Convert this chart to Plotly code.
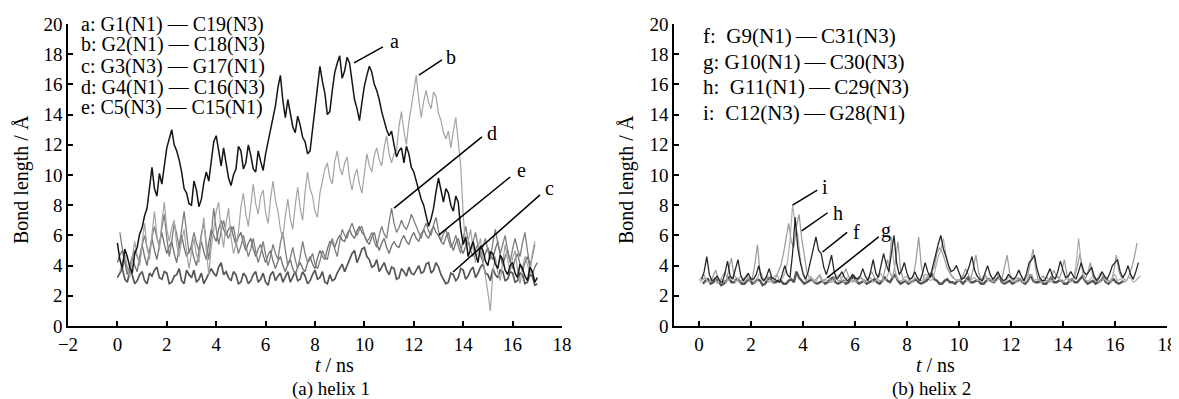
import plotly.graph_objects as go

# ---------------- helix 1 (bond length, Å), sampled every 0.1 ns ----------------
# grid t = 0.0, 0.1, ...
a_vals = [5.5, 4.4, 3.8, 5.1, 4.6, 3.9, 3.5, 4.8, 5.2, 6.1, 6.5, 7.3, 7.8, 9.2, 10.5, 9.1,
          8.6, 10.1, 9.4, 10.6, 11.8, 12.4, 13.0, 12.0, 11.6, 11.0, 10.2, 9.1, 8.8, 8.1,
          8.0, 9.6, 9.0, 7.9, 8.4, 9.5, 10.2, 9.6, 11.0, 12.2, 12.6, 11.5, 10.6, 11.8,
          10.9, 9.8, 9.3, 10.0, 10.4, 11.9, 11.6, 10.4, 10.8, 12.0, 11.3, 10.4, 10.2,
          11.6, 10.9, 10.3, 11.4, 12.2, 12.9, 13.8, 14.6, 15.8, 16.6, 14.9, 13.8, 15.0,
          14.2, 13.2, 12.8, 13.9, 13.3, 12.5, 12.2, 11.4, 11.6, 13.0, 14.5, 16.0, 17.2,
          16.2, 15.4, 14.0, 14.2, 15.6, 16.8, 17.4, 17.9, 16.4, 16.9, 17.8, 17.4, 16.2,
          15.0, 14.4, 13.6, 14.8, 15.9, 16.6, 17.2, 16.8, 16.0, 15.6, 15.0, 14.2, 13.6,
          13.0, 12.6, 12.9, 12.0, 11.2, 11.6, 11.8, 10.8, 11.9, 11.4, 10.5, 10.2, 9.6,
          9.0, 8.4, 8.0, 7.2, 6.6, 7.1, 7.8, 8.9, 9.8, 9.0, 8.2, 9.1, 8.8, 8.0, 7.6, 8.6,
          8.2, 6.4, 5.4, 5.9, 4.6, 5.1, 5.6, 4.8, 4.2, 5.3, 5.0, 4.3, 4.0, 4.9, 4.8, 4.1,
          3.8, 4.7, 4.4, 3.7, 3.4, 4.0, 4.2, 3.5, 3.2, 4.1, 3.8, 3.3, 3.0, 3.9, 3.6, 2.9,
          3.2]
c_vals = [3.2, 3.5, 3.8, 3.1, 2.9, 3.6, 3.4, 2.8, 3.0, 3.4, 3.6, 3.0, 2.8, 3.5, 3.3, 3.7,
          3.9, 3.2, 3.1, 3.6, 3.5, 2.8, 2.9, 3.3, 3.4, 3.8, 3.0, 2.8, 3.7, 3.4, 3.2, 3.7,
          2.9, 3.1, 3.5, 2.8, 3.1, 3.4, 3.8, 3.5, 3.3, 3.9, 4.2, 3.4, 3.6, 3.2, 3.0, 3.6,
          3.4, 2.8, 2.9, 3.5, 3.3, 2.8, 3.0, 3.4, 3.6, 2.9, 3.1, 3.5, 2.9, 2.7, 3.4, 3.6,
          3.0, 3.3, 3.5, 2.9, 3.2, 3.6, 2.9, 3.2, 3.6, 3.0, 3.1, 3.6, 3.3, 2.8, 3.0, 3.4,
          3.7, 3.1, 3.2, 3.6, 2.9, 2.8, 3.4, 3.0, 3.1, 3.5, 3.8, 4.1, 3.6, 4.0, 4.4, 4.8,
          5.0, 4.2, 4.6, 5.1, 5.2, 4.6, 4.4, 3.9, 4.0, 4.4, 3.6, 3.9, 4.2, 3.7, 3.4, 3.9,
          3.8, 3.1, 3.2, 3.8, 3.6, 3.3, 3.9, 3.5, 3.4, 3.7, 4.0, 3.5, 3.6, 4.1, 4.2, 3.5,
          3.7, 4.2, 3.9, 3.4, 3.1, 2.8, 2.9, 3.5, 3.4, 3.0, 3.2, 3.8, 3.7, 3.1, 3.3, 3.7,
          3.9, 3.2, 3.5, 3.9, 4.1, 3.5, 3.4, 3.0, 3.8, 3.4, 3.2, 3.7, 3.6, 3.0, 3.1, 3.6,
          3.5, 2.9, 3.0, 3.5, 3.4, 2.8, 2.9, 3.4, 3.3, 2.7, 2.8]
e_vals = [4.2, 4.7, 5.0, 4.1, 3.4, 4.0, 4.6, 4.0, 3.6, 4.6, 5.4, 4.6, 4.0, 5.0, 5.8, 5.0,
          4.4, 5.4, 6.2, 5.4, 4.8, 5.3, 5.6, 4.8, 4.2, 5.2, 6.0, 5.2, 4.6, 5.0, 5.2, 4.5,
          4.0, 4.9, 5.6, 4.9, 4.4, 5.5, 6.4, 6.0, 5.6, 6.4, 7.0, 6.4, 6.0, 6.4, 6.6, 5.9,
          5.4, 5.9, 6.2, 5.5, 5.0, 5.5, 5.8, 5.1, 4.6, 5.1, 5.4, 4.7, 4.2, 4.7, 5.0, 4.3,
          3.8, 4.3, 4.6, 4.0, 3.6, 4.1, 4.4, 3.8, 3.4, 3.9, 4.2, 3.8, 3.6, 4.2, 4.6, 4.1,
          3.8, 4.5, 5.0, 4.6, 4.4, 5.1, 5.6, 5.5, 5.2, 5.7, 6.0, 5.7, 5.6, 6.1, 6.4, 6.0,
          5.8, 6.3, 6.6, 6.2, 6.0, 5.6, 5.4, 5.9, 6.2, 5.5, 5.0, 5.5, 5.8, 5.2, 4.8, 5.3,
          5.6, 5.3, 5.2, 5.7, 6.0, 5.6, 5.4, 5.9, 6.2, 5.8, 5.6, 6.1, 6.4, 6.0, 5.8, 6.3,
          6.6, 6.2, 6.0, 5.6, 5.4, 5.9, 6.2, 5.5, 5.0, 5.5, 5.8, 5.2, 4.8, 5.3, 5.6, 5.0,
          4.6, 5.1, 5.4, 4.7, 4.2, 4.8, 5.2, 4.7, 4.4, 5.1, 5.6, 4.7, 4.0, 4.6, 5.0, 4.3,
          3.8, 4.4, 4.8, 4.1, 3.6, 4.2, 4.6, 3.9, 3.4, 3.9, 4.2]
# grid t = 0.1, 0.2, ...
b_vals = [3.6, 4.3, 4.8, 3.9, 3.2, 4.5, 5.6, 4.7, 4.0, 5.5, 6.8, 5.2, 4.4, 6.1, 7.6, 6.0,
          5.0, 6.9, 8.2, 6.4, 5.6, 6.5, 7.0, 5.4, 4.6, 5.7, 6.4, 4.9, 3.8, 4.9, 5.8, 4.7,
          4.2, 5.9, 7.2, 5.0, 3.4, 5.2, 6.6, 7.6, 8.2, 6.3, 5.2, 6.8, 7.8, 5.9, 4.8, 5.4,
          6.2, 7.9, 8.8, 7.4, 6.6, 8.2, 9.4, 8.1, 7.4, 8.6, 9.0, 7.5, 6.8, 8.4, 9.6, 8.3,
          7.6, 6.4, 5.8, 7.3, 8.4, 7.1, 6.4, 8.0, 9.2, 7.8, 7.0, 8.9, 10.2, 9.1, 8.6, 7.6,
          7.2, 8.8, 9.6, 10.4, 10.8, 9.8, 9.4, 10.9, 11.6, 10.5, 10.0, 10.8, 11.2, 9.8,
          9.0, 9.9, 10.4, 9.4, 8.8, 10.3, 11.4, 10.6, 10.2, 11.3, 11.8, 11.0, 10.6, 11.8,
          12.6, 11.4, 10.8, 11.4, 11.6, 13.2, 14.2, 12.9, 12.0, 13.5, 14.6, 15.8, 16.6,
          15.0, 13.8, 14.9, 15.6, 14.8, 14.4, 15.5, 15.2, 14.1, 13.6, 12.8, 12.4, 12.9,
          11.8, 12.9, 13.8, 12.2, 10.6, 7.4, 5.2, 5.6, 6.4, 5.1, 4.2, 5.2, 5.8, 4.4, 3.4,
          2.2, 1.0, 3.6, 4.6, 3.6, 3.0, 4.4, 5.4, 4.4, 3.6, 4.5, 5.0, 3.7, 2.8, 3.9, 4.6,
          4.1, 3.4, 4.8, 5.6]
d_vals = [6.2, 5.1, 4.4, 3.8, 3.6, 4.5, 5.0, 4.6, 4.2, 5.3, 6.0, 5.2, 4.8, 5.9, 6.6, 5.8,
          5.4, 6.5, 7.4, 5.8, 4.6, 5.6, 6.8, 6.1, 5.2, 6.4, 7.6, 6.2, 4.8, 5.4, 6.2, 5.5,
          5.0, 6.1, 6.8, 5.5, 4.4, 6.0, 7.8, 6.4, 5.4, 6.3, 7.0, 6.2, 5.8, 6.3, 6.6, 5.6,
          4.8, 5.3, 6.0, 5.3, 4.6, 5.1, 5.8, 4.9, 4.2, 4.8, 5.6, 4.7, 4.0, 4.6, 5.4, 4.8,
          4.4, 5.5, 6.2, 5.0, 4.0, 4.5, 5.2, 4.4, 3.8, 4.6, 5.6, 4.8, 4.2, 4.4, 4.8, 4.1,
          3.8, 4.3, 5.0, 4.6, 4.4, 5.2, 5.8, 5.1, 4.6, 5.6, 6.4, 6.0, 5.8, 6.4, 6.8, 6.3,
          6.0, 6.4, 6.6, 6.0, 5.6, 5.8, 6.2, 5.6, 5.2, 6.0, 6.6, 6.1, 5.8, 6.9, 7.8, 6.8,
          6.2, 6.5, 7.0, 6.6, 6.4, 6.8, 7.4, 7.0, 6.6, 6.1, 5.8, 6.4, 6.8, 6.3, 6.0, 6.7,
          7.2, 6.3, 5.6, 6.1, 6.4, 5.7, 5.2, 5.5, 6.0, 5.3, 4.8, 5.8, 6.6, 5.7, 5.0, 5.6,
          6.2, 5.3, 4.6, 5.3, 5.8, 5.0, 4.4, 5.5, 6.4, 5.5, 4.8, 5.4, 6.0, 5.0, 4.2, 5.1,
          5.8, 5.1, 4.6, 5.5, 6.2, 5.0, 4.0, 4.6, 5.4]

# ---------------- helix 2, sampled every 0.1 ns ----------------
# grid t = 0.0, 0.1, ...
i_vals = [3.0, 3.2, 3.4, 3.0, 2.9, 3.1, 3.2, 2.8, 3.0, 3.3, 3.6, 3.0, 3.1, 3.3, 2.9, 3.1,
          3.3, 3.0, 3.0, 3.2, 3.2, 2.9, 2.9, 3.4, 3.5, 3.0, 3.1, 2.9, 3.0, 3.3, 3.4, 3.0,
          3.1, 3.5, 4.2, 5.6, 8.0, 6.8, 6.0, 4.4, 3.4, 3.0, 3.1, 3.3, 3.0, 2.9, 3.3, 3.1,
          2.9, 3.2, 3.2, 2.9, 3.0, 3.3, 3.4, 3.0, 2.9, 3.2, 3.1, 2.9, 3.0, 3.2, 3.3, 3.0,
          2.9, 3.1, 3.2, 2.9, 3.0, 3.3, 3.5, 3.0, 3.1, 3.6, 5.9, 4.1, 3.2, 3.0, 3.0, 3.2,
          3.3, 2.9, 2.9, 3.2, 3.1, 3.0, 3.0, 3.4, 3.4, 3.0, 3.1, 3.8, 4.6, 5.0, 5.8, 4.7,
          3.9, 3.4, 3.2, 3.0, 3.0, 3.3, 3.3, 3.0, 2.9, 3.1, 3.2, 3.0, 3.0, 3.2, 3.4, 3.0,
          3.1, 3.0, 2.9, 3.1, 3.2, 2.9, 3.0, 3.2, 3.3, 3.0, 2.9, 3.2, 3.1, 2.9, 3.0, 3.3,
          3.4, 3.0, 3.1, 3.0, 2.9, 3.2, 3.2, 2.9, 3.0, 3.2, 3.3, 3.0, 2.9, 3.1, 3.1, 2.9,
          3.0, 4.0, 5.8, 4.2, 3.2, 3.0, 3.0, 3.2, 3.3, 3.0, 2.9, 3.1, 3.1, 2.9, 3.0, 3.2,
          3.4, 3.0, 3.1, 3.0, 2.9, 3.2, 3.2, 2.9, 3.0, 3.2, 3.3]
# grid t = 0.05, 0.15, ...
h_vals = [2.9, 3.1, 3.2, 2.9, 3.0, 3.4, 3.7, 3.0, 3.1, 3.0, 2.9, 3.8, 4.5, 3.3, 3.2, 2.9,
          3.0, 3.2, 3.4, 3.0, 3.1, 4.1, 5.4, 3.5, 3.0, 3.1, 3.3, 3.0, 2.9, 3.2, 3.6, 4.0,
          4.8, 5.8, 6.8, 5.6, 5.2, 6.6, 7.4, 5.8, 4.6, 3.6, 3.2, 3.1, 3.0, 3.2, 3.4, 3.0,
          3.1, 3.0, 2.9, 3.1, 3.3, 3.0, 3.0, 3.4, 3.8, 3.3, 3.1, 3.0, 2.9, 3.1, 3.2, 3.0,
          3.0, 3.3, 3.6, 3.2, 3.1, 3.0, 3.0, 3.7, 4.4, 3.5, 3.2, 4.2, 5.6, 3.8, 3.1, 3.0,
          2.9, 3.1, 3.3, 4.4, 5.9, 4.0, 3.0, 3.2, 3.4, 3.6, 3.9, 4.8, 5.2, 4.9, 4.4, 3.8,
          3.5, 3.2, 3.1, 3.0, 3.0, 3.3, 3.8, 3.4, 3.1, 3.8, 4.7, 3.6, 3.0, 3.1, 3.3, 3.0,
          2.9, 3.1, 3.5, 3.2, 3.1, 3.9, 4.7, 3.5, 3.0, 3.1, 3.2, 3.0, 2.9, 3.1, 3.4, 4.2,
          5.1, 3.8, 3.0, 3.2, 3.3, 3.0, 2.9, 3.2, 3.7, 3.3, 3.1, 3.6, 4.4, 3.4, 3.0, 3.1,
          3.3, 3.9, 4.8, 3.7, 3.1, 3.5, 4.2, 3.3, 3.0, 3.2, 3.5, 3.2, 3.1, 3.0, 2.9, 3.6,
          4.7, 3.6, 3.2, 3.1, 3.0, 3.4, 3.9, 4.6, 5.5]
# grid t = 0.1, 0.2, ...
f_vals = [3.1, 3.6, 4.6, 3.4, 3.0, 3.1, 3.3, 3.0, 2.9, 3.5, 4.3, 3.3, 3.1, 3.7, 4.4, 3.4,
          3.0, 3.2, 3.5, 3.1, 3.1, 3.4, 4.0, 3.2, 3.0, 3.3, 3.8, 3.2, 3.1, 3.0, 2.9, 3.4,
          4.0, 3.4, 3.2, 4.8, 7.2, 5.2, 4.2, 3.5, 3.1, 3.6, 4.4, 5.2, 5.9, 5.0, 4.8, 3.9,
          3.4, 4.0, 4.7, 3.6, 3.1, 3.3, 3.6, 3.2, 3.0, 3.1, 3.4, 3.2, 3.1, 3.3, 3.8, 3.3,
          3.0, 3.6, 4.4, 3.5, 3.2, 4.0, 4.8, 4.1, 3.6, 4.8, 6.0, 4.2, 3.4, 3.7, 4.2, 3.5,
          3.1, 3.2, 3.6, 3.2, 3.0, 3.5, 4.2, 3.6, 3.2, 4.0, 4.8, 5.4, 6.0, 5.1, 4.6, 4.0,
          3.6, 3.7, 4.0, 3.5, 3.1, 3.2, 3.5, 4.0, 4.6, 3.7, 3.3, 3.1, 3.0, 3.5, 4.0, 3.4,
          3.1, 3.3, 3.6, 3.2, 3.0, 3.1, 3.4, 3.2, 3.1, 3.3, 3.7, 3.3, 3.0, 3.5, 4.2, 4.4,
          4.7, 3.8, 3.2, 3.0, 3.0, 3.4, 3.8, 3.3, 3.1, 3.6, 4.3, 3.7, 3.2, 3.3, 3.6, 3.3,
          3.1, 3.6, 4.2, 3.6, 3.4, 3.6, 3.9, 3.3, 3.0, 3.2, 3.6, 3.3, 3.1, 3.5, 4.0, 4.2,
          4.4, 3.6, 3.2, 3.5, 4.0, 3.4, 3.1, 3.6, 4.2]
# grid t = 0.15, 0.25, ...
g_vals = [2.8, 3.0, 3.1, 2.8, 2.9, 3.1, 3.0, 2.7, 2.8, 3.0, 3.2, 2.9, 2.9, 3.1, 3.0, 2.8,
          2.8, 3.0, 3.1, 2.8, 2.9, 3.1, 3.0, 2.7, 2.8, 3.1, 3.2, 2.9, 2.9, 3.0, 3.0, 2.8,
          2.8, 3.0, 3.1, 2.9, 3.6, 3.2, 3.0, 2.8, 2.9, 3.0, 3.1, 2.9, 2.8, 2.9, 3.0, 2.8,
          2.9, 3.1, 3.2, 2.9, 2.8, 2.9, 3.0, 2.8, 2.9, 3.1, 3.3, 3.0, 2.8, 2.9, 3.0, 2.8,
          2.9, 3.0, 3.1, 2.9, 2.8, 3.0, 3.2, 3.0, 2.9, 3.2, 3.4, 3.0, 2.8, 2.9, 3.0, 2.8,
          2.9, 3.0, 3.1, 2.9, 2.8, 2.9, 3.0, 3.2, 3.5, 3.1, 3.0, 2.8, 2.8, 3.0, 3.1, 2.9,
          2.9, 2.8, 3.0, 3.0, 2.8, 3.0, 3.2, 2.9, 2.9, 3.0, 3.0, 2.8, 2.8, 3.0, 3.1, 3.0,
          2.9, 3.1, 3.3, 2.9, 2.8, 2.9, 3.0, 2.8, 2.9, 3.0, 3.1, 2.9, 2.8, 3.0, 3.4, 3.0,
          2.9, 2.9, 3.0, 2.8, 2.8, 3.0, 3.2, 2.9, 2.9, 3.0, 3.0, 2.8, 2.8, 3.0, 3.1, 2.9,
          2.9, 3.1, 3.3, 3.0, 2.8, 2.9, 3.0, 2.8, 2.9, 3.0, 3.2, 2.9, 2.8, 3.0, 3.1, 2.9,
          2.8, 2.9, 3.0]

legend1 = ["a: G1(N1) \u2014 C19(N3)", "b: G2(N1) \u2014 C18(N3)", "c: G3(N3) \u2014 G17(N1)",
           "d: G4(N1) \u2014 C16(N3)", "e: C5(N3) \u2014 C15(N1)"]
legend2 = ["f:  G9(N1)\u2009\u2014\u2009C31(N3)", "g: G10(N1)\u2009\u2014\u2009C30(N3)",
           "h:  G11(N1)\u2009\u2014\u2009C29(N3)", "i:  C12(N3)\u2009\u2014\u2009G28(N1)"]


def grid(start, n, step=0.1):
    return [round(start + step * k, 3) for k in range(n)]


# the page body adds an 8 px margin; work in page pixels and convert
OFF = 8
W, H = 1179 - OFF, 399 - OFF


def px(x):
    return (x - OFF) / W


def py(y):
    return 1 - (y - OFF) / H


FONT = "Liberation Serif"
fig = go.Figure()

h1 = [  # (values, grid start, colour, width)
    (c_vals, 0.0, "#555555", 1.7),
    (e_vals, 0.0, "#707070", 1.3),
    (d_vals, 0.1, "#7e7e7e", 1.3),
    (b_vals, 0.1, "#a4a4a4", 1.2),
    (a_vals, 0.0, "#141414", 1.5),
]
for vals, st, col, lw in h1:
    fig.add_trace(go.Scatter(x=grid(st, len(vals)), y=vals, mode="lines",
                             line=dict(color=col, width=lw), xaxis="x", yaxis="y",
                             showlegend=False, hoverinfo="skip"))

h2 = [
    (g_vals, 0.15, "#555555", 2.4),
    (h_vals, 0.05, "#9a9a9a", 1.2),
    (i_vals, 0.0, "#adadad", 1.2),
    (f_vals, 0.1, "#262626", 1.3),
]
for vals, st, col, lw in h2:
    fig.add_trace(go.Scatter(x=grid(st, len(vals)), y=vals, mode="lines",
                             line=dict(color=col, width=lw), xaxis="x2", yaxis="y2",
                             showlegend=False, hoverinfo="skip"))

axis_common = dict(showline=True, linecolor="black", linewidth=1.5, ticks="inside",
                   ticklen=5, tickwidth=1.5, tickcolor="black", showgrid=False,
                   zeroline=False, automargin=False,
                   tickfont=dict(family=FONT, size=19, color="black"))

ydom = [py(326), py(24)]
fig.update_layout(
    width=W, height=H, margin=dict(l=0, r=0, t=0, b=0),
    paper_bgcolor="white", plot_bgcolor="white",
    xaxis=dict(domain=[px(68), px(562)], range=[-2, 18], dtick=2, tick0=0,
               anchor="y", **axis_common),
    yaxis=dict(domain=ydom, range=[0, 20], dtick=2, anchor="x", **axis_common),
    xaxis2=dict(domain=[px(674), px(1167)], range=[-0.96, 18],
                tickvals=list(range(0, 19, 2)), anchor="y2", **axis_common),
    yaxis2=dict(domain=ydom, range=[0, 20], dtick=2, anchor="x2", **axis_common),
)

anns = []
f20 = dict(family=FONT, size=20, color="black")
f19 = dict(family=FONT, size=19, color="black")
f21 = dict(family=FONT, size=21, color="black")
# axis titles / captions
for xc, cap in [(331, "(a) helix 1"), (931, "(b) helix 2")]:
    anns.append(dict(x=px(xc), y=py(388.5), xref="paper", yref="paper", text=cap,
                     showarrow=False, font=f19, xanchor="center", yanchor="middle"))
for xc in (334, 935):
    anns.append(dict(x=px(xc), y=py(365), xref="paper", yref="paper",
                     text="<i>t</i> / ns", showarrow=False, font=f20,
                     xanchor="center", yanchor="middle"))
for xc in (21, 626):
    anns.append(dict(x=px(xc), y=py(180), xref="paper", yref="paper",
                     text="Bond length / \u00c5", textangle=-90, showarrow=False, font=f20,
                     xanchor="center", yanchor="middle"))
# legends
for k, txt in enumerate(legend1):
    anns.append(dict(x=px(79), y=py(24 + 21 * k), xref="paper", yref="paper",
                     text=txt, showarrow=False, font=f20, xanchor="left", yanchor="middle"))
for k, txt in enumerate(legend2):
    anns.append(dict(x=px(701), y=py(36 + 25.7 * k), xref="paper", yref="paper",
                     text=txt, showarrow=False, font=f21, xanchor="left", yanchor="middle"))

# leader lines (data coords) and letters
lead1 = [("a", 9.58, 17.42, 10.75, 18.48, 11.2, 18.9),
         ("b", 12.21, 16.62, 13.14, 17.62, 13.5, 17.8),
         ("d", 11.2, 7.81, 14.76, 12.52, 15.15, 12.75),
         ("e", 13.02, 6.03, 15.9, 9.87, 16.35, 10.35),
         ("c", 13.59, 3.58, 17.11, 8.68, 17.5, 9.15)]
lead2 = [("i", 3.6, 8.0, 4.55, 9.0, 4.85, 9.2),
         ("h", 3.95, 6.3, 4.95, 7.5, 5.35, 7.5),
         ("f", 4.75, 4.9, 5.7, 6.2, 6.05, 6.2),
         ("g", 4.94, 3.2, 6.91, 5.9, 7.2, 6.35)]
shapes = []
for lst, xr, yr in [(lead1, "x", "y"), (lead2, "x2", "y2")]:
    for lab, x0, y0, x1, y1, lx, ly in lst:
        shapes.append(dict(type="line", x0=x0, y0=y0, x1=x1, y1=y1, xref=xr, yref=yr,
                           line=dict(color="black", width=1.5)))
        anns.append(dict(x=lx, y=ly, xref=xr, yref=yr, text=lab, showarrow=False,
                         font=f20, xanchor="center", yanchor="middle"))

fig.update_layout(annotations=anns, shapes=shapes)
fig.write_html("out.html")
